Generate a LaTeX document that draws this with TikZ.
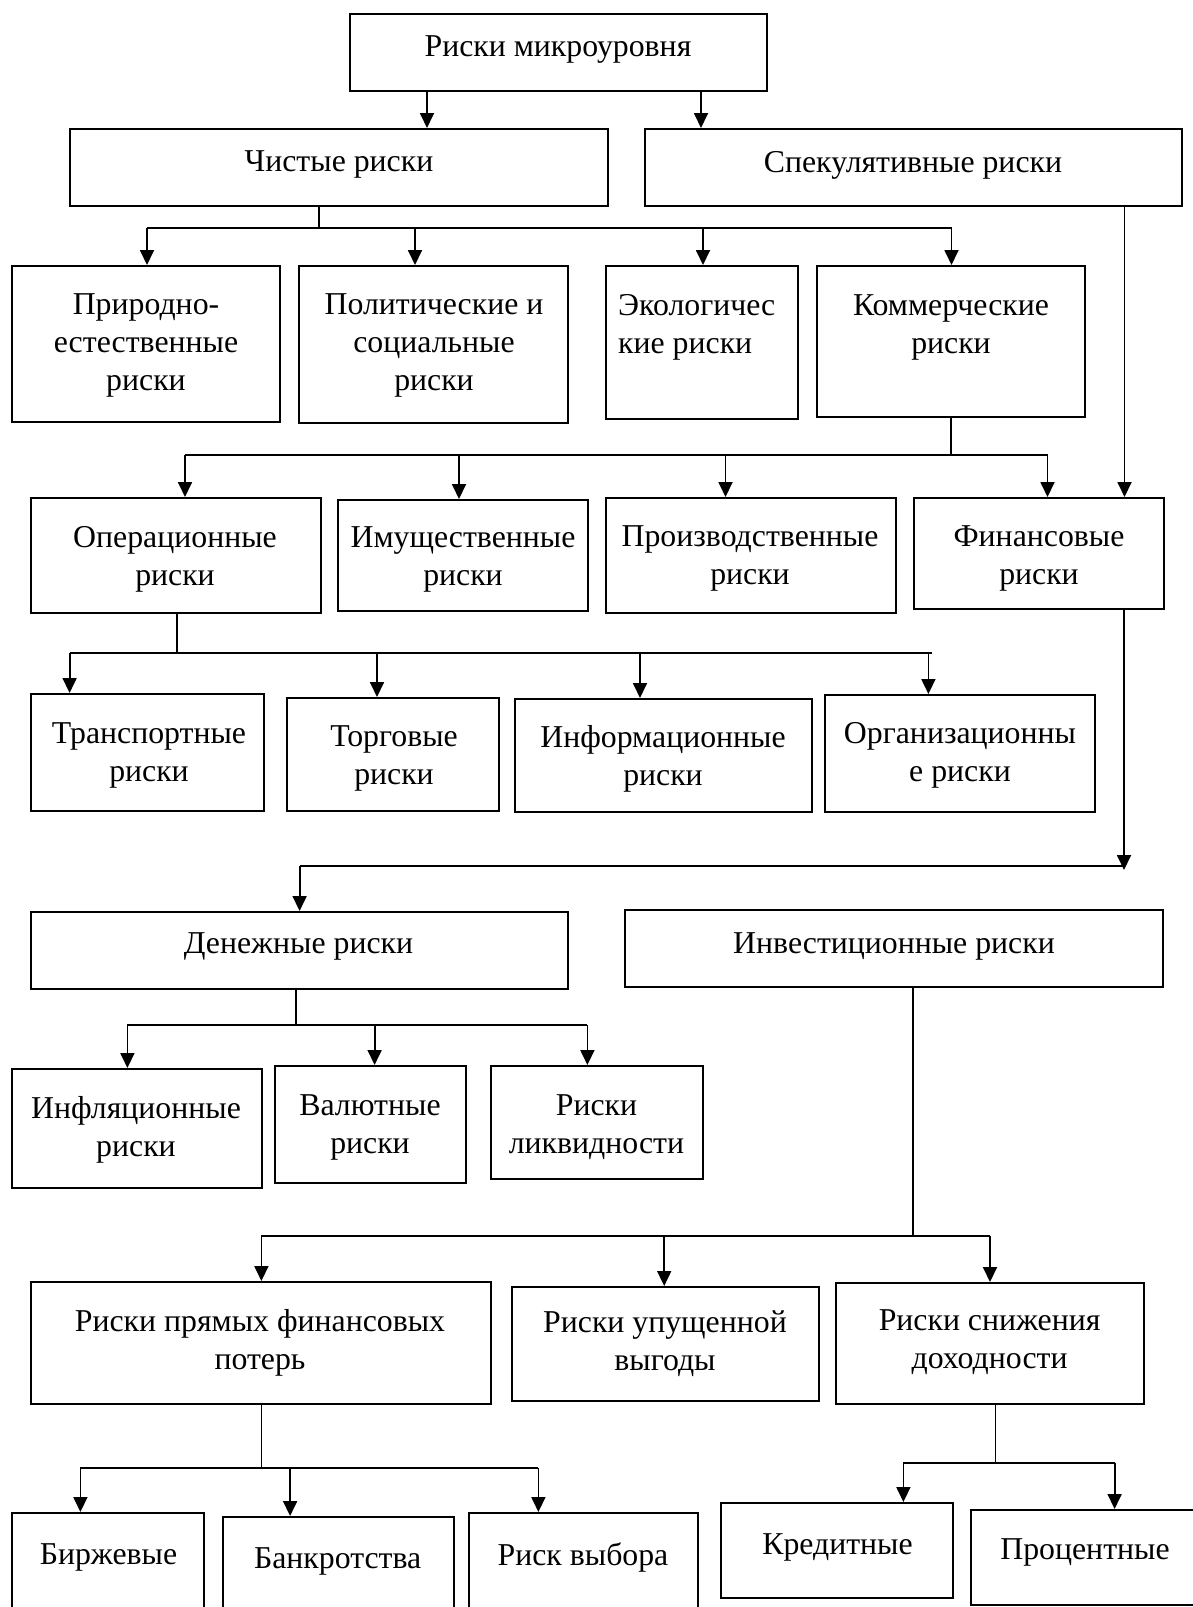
\documentclass[tikz,border=0pt]{standalone}
\usepackage{fontspec}
\setmainfont{Liberation Serif}
\usetikzlibrary{arrows.meta,fit}
\begin{document}
\begin{tikzpicture}[x=1pt,y=-1pt,
  box/.style={draw,line width=2pt,inner sep=0pt},
  txt/.style={font=\fontsize{31.8}{38}\selectfont,align=center,inner sep=0pt,yshift=-4pt,
    execute at begin node=\strut,execute at end node=\strut},
  stub/.style={line width=1.3pt},
  ln/.style={line width=1.8pt},
  arr/.style={line width=1.8pt,-{Triangle[length=15pt,width=14pt]}}]
\useasboundingbox[fill=white] (0,0) rectangle (1193,1607);
\clip (0,0) rectangle (1193,1607);
% boxes
\node[box,fit={(350,14) (767,91)}] (top) {};
\node[box,fit={(70,129) (608,206)}] (ch) {};
\node[box,fit={(645,129) (1182,206)}] (sp) {};
\node[box,fit={(12,266) (280,422)}] (prir) {};
\node[box,fit={(299,266) (568,423)}] (pol) {};
\node[box,fit={(606,266) (798,419)}] (eko) {};
\node[box,fit={(817,266) (1085,417)}] (kom) {};
\node[box,fit={(31,498) (321,613)}] (op) {};
\node[box,fit={(338,500) (588,611)}] (im) {};
\node[box,fit={(606,498) (896,613)}] (pr) {};
\node[box,fit={(914,498) (1164,609)}] (fin) {};
\node[box,fit={(31,694) (264,811)}] (tr) {};
\node[box,fit={(287,698) (499,811)}] (tor) {};
\node[box,fit={(515,699) (812,812)}] (inf) {};
\node[box,fit={(825,695) (1095,812)}] (org) {};
\node[box,fit={(31,912) (568,989)}] (den) {};
\node[box,fit={(625,910) (1163,987)}] (inv) {};
\node[box,fit={(12,1069) (262,1188)}] (infl) {};
\node[box,fit={(275,1066) (466,1183)}] (val) {};
\node[box,fit={(491,1066) (703,1179)}] (lik) {};
\node[box,fit={(31,1282) (491,1404)}] (pry) {};
\node[box,fit={(512,1287) (819,1401)}] (upu) {};
\node[box,fit={(836,1283) (1144,1404)}] (sni) {};
\node[box,fit={(12,1513) (204,1650)}] (bir) {};
\node[box,fit={(223,1517) (454,1650)}] (ban) {};
\node[box,fit={(469,1513) (698,1650)}] (rv) {};
\node[box,fit={(721,1503) (953,1598)}] (kre) {};
\node[box,fit={(971,1510) (1200,1605)}] (pro) {};
% texts
\node[txt] (ttop) at (558,45) {Риски микроуровня};
\node[txt] (tch) at (339,160) {Чистые риски};
\node[txt] (tsp) at (913,161) {Спекулятивные риски};
\node[txt] (tprir) at (146,344) {Природно-\\естественные\\риски};
\node[txt] (tpol) at (434,344) {Политические и\\социальные\\риски};
\node[txt,align=left,anchor=west] (teko) at (618,325.5) {Экологичес\\кие риски};
\node[txt] (tkom) at (951,325.5) {Коммерческие\\риски};
\node[txt] (top2) at (175,557.5) {Операционные\\риски};
\node[txt] (tim) at (463,557.5) {Имущественные\\риски};
\node[txt] (tpr) at (750,556.7) {Производственные\\риски};
\node[txt] (tfin) at (1039,556.7) {Финансовые\\риски};
\node[txt] (ttr) at (149,753.3) {Транспортные\\риски};
\node[txt] (ttor) at (394,756.7) {Торговые\\риски};
\node[txt] (tinf) at (663,756.7) {Информационные\\риски};
\node[txt] (torg) at (960,754) {Организационны\\е риски};
\node[txt] (tden) at (298.5,941.7) {Денежные риски};
\node[txt] (tinv) at (894,941.7) {Инвестиционные риски};
\node[txt] (tinfl) at (136,1128.3) {Инфляционные\\риски};
\node[txt] (tval) at (370,1125.5) {Валютные\\риски};
\node[txt] (tlik) at (596.5,1125.5) {Риски\\ликвидности};
\node[txt] (tpry) at (260,1340.8) {Риски прямых финансовых\\потерь};
\node[txt] (tupu) at (665,1342.5) {Риски упущенной\\выгоды};
\node[txt] (tsni) at (989.6,1340.8) {Риски снижения\\доходности};
\node[txt] (tbir) at (108.5,1553.3) {Биржевые};
\node[txt] (tban) at (337.7,1556.7) {Банкротства};
\node[txt] (trv) at (583,1553.7) {Риск выбора};
\node[txt] (tkre) at (837.5,1543.3) {Кредитные};
\node[txt] (tpro) at (1085,1548) {Процентные};
% junctions
\coordinate (j1) at (319,228);
\coordinate (j2) at (951,455);
\coordinate (j3) at (177,653.3);
\coordinate (j4) at (296,1025);
\coordinate (j5) at (913,1236);
\coordinate (j6) at (261.4,1468.3);
\coordinate (j7) at (995.7,1462.7);
\coordinate (finend) at (1124,870);
% connectors
\draw[arr] (427,0 |- top.south) -- (427,0 |- ch.north);
\draw[arr] (701,0 |- top.south) -- (701,0 |- sp.north);
% pure risks
\draw[stub] (j1 |- ch.south) -- (j1);
\draw[ln] (147,0 |- j1) -- (951.5,0 |- j1);
\draw[arr] (147,0 |- j1) -- (147,0 |- prir.north);
\draw[arr] (415,0 |- j1) -- (415,0 |- pol.north);
\draw[arr] (703,0 |- j1) -- (703,0 |- eko.north);
\draw[arr] (951.5,0 |- j1) -- (951.5,0 |- kom.north);
% speculative -> financial
\draw[arr] (1124.5,0 |- sp.south) -- (1124.5,0 |- fin.north);
% commercial
\draw[stub] (j2 |- kom.south) -- (j2);
\draw[ln] (185,0 |- j2) -- (1047.5,0 |- j2);
\draw[arr] (185,0 |- j2) -- (185,0 |- op.north);
\draw[arr] (459,0 |- j2) -- (459,0 |- im.north);
\draw[arr] (725.5,0 |- j2) -- (725.5,0 |- pr.north);
\draw[arr] (1047.5,0 |- j2) -- (1047.5,0 |- fin.north);
% operational
\draw[stub] (j3 |- op.south) -- (j3);
\draw[ln] (69.6,0 |- j3) -- (931.5,0 |- j3);
\draw[arr] (69.6,0 |- j3) -- (69.6,0 |- tr.north);
\draw[arr] (377,0 |- j3) -- (377,0 |- tor.north);
\draw[arr] (640,0 |- j3) -- (640,0 |- inf.north);
\draw[arr] (928.4,0 |- j3) -- (928.4,0 |- org.north);
% financial
\draw[arr] (finend |- fin.south) -- (finend);
\draw[ln] (1124,866) -- (299.6,866);
\draw[arr] (299.6,866) -- (299.6,0 |- den.north);
% monetary
\draw[stub] (j4 |- den.south) -- (j4);
\draw[ln] (127.4,0 |- j4) -- (587.4,0 |- j4);
\draw[arr] (127.4,0 |- j4) -- (127.4,0 |- infl.north);
\draw[arr] (374.6,0 |- j4) -- (374.6,0 |- val.north);
\draw[arr] (587.4,0 |- j4) -- (587.4,0 |- lik.north);
% investment
\draw[ln] (j5 |- inv.south) -- (j5);
\draw[ln] (261.4,0 |- j5) -- (990,0 |- j5);
\draw[arr] (261.4,0 |- j5) -- (261.4,0 |- pry.north);
\draw[arr] (664.2,0 |- j5) -- (664.2,0 |- upu.north);
\draw[arr] (990,0 |- j5) -- (990,0 |- sni.north);
% direct losses
\draw[stub] (j6 |- pry.south) -- (j6);
\draw[ln] (80.4,0 |- j6) -- (538.4,0 |- j6);
\draw[arr] (80.4,0 |- j6) -- (80.4,0 |- bir.north);
\draw[arr] (290.1,0 |- j6) -- (290.1,0 |- ban.north);
\draw[arr] (538.4,0 |- j6) -- (538.4,0 |- rv.north);
% income reduction
\draw[stub] (j7 |- sni.south) -- (j7);
\draw[ln] (903.4,0 |- j7) -- (1114.6,0 |- j7);
\draw[arr] (903.4,0 |- j7) -- (903.4,0 |- kre.north);
\draw[arr] (1114.6,0 |- j7) -- (1114.6,0 |- pro.north);
\end{tikzpicture}
\end{document}
